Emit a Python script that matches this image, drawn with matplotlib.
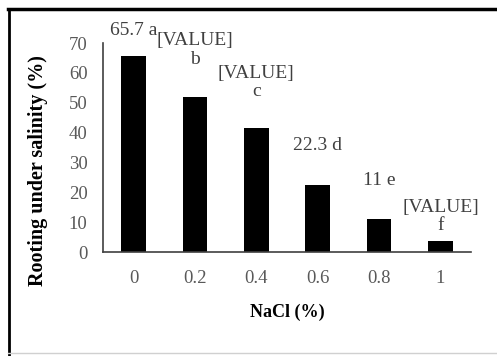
import numpy as np
import matplotlib.pyplot as plt
from matplotlib.lines import Line2D

plt.rcParams['font.family'] = ['Liberation Serif', 'DejaVu Serif']

# data
nacl = ['0', '0.2', '0.4', '0.6', '0.8', '1']
rooting = [65.7, 52.0, 41.5, 22.3, 11.0, 3.7]
bar_labels = ['65.7 a', '[VALUE]\nb', '[VALUE]\nc', '22.3 d', '11 e', '[VALUE]\nf']

# label offsets above bar tops (points)
label_offsets = [12, 21, 20, 23, 22, 5]

fig = plt.figure(figsize=(4.97, 3.56), dpi=100)
ax = fig.add_axes([0.207, 0.292, 0.741, 0.587])

x = np.arange(len(nacl))
bars = ax.bar(x, rooting, width=0.4, color='black')

for b, lab, off in zip(bars, bar_labels, label_offsets):
    ax.annotate(lab, (b.get_x() + b.get_width() / 2, b.get_height()),
                xytext=(0, off), textcoords='offset points',
                ha='center', va='bottom', fontsize=14, color='#404040',
                linespacing=1.1, annotation_clip=False)

ax.set_xlim(-0.5, len(nacl) - 0.5)
ax.set_ylim(0, 70)
ax.set_yticks(range(0, 71, 10))
ax.set_xticks(x)
ax.set_xticklabels(nacl)
ax.tick_params(axis='both', length=0, labelsize=13.5, labelcolor='#595959')
ax.tick_params(axis='y', pad=11)
ax.tick_params(axis='x', pad=13)

ax.spines['top'].set_visible(False)
ax.spines['right'].set_visible(False)
ax.spines['left'].set_color('#404040')
ax.spines['bottom'].set_color('#404040')
ax.spines['left'].set_linewidth(1.2)
ax.spines['bottom'].set_linewidth(1.2)

ax.set_ylabel('Rooting under salinity (%)', fontsize=14.5, fontweight='bold')
ax.yaxis.set_label_coords(-0.15, 0.39)
ax.set_xlabel('NaCl (%)', fontsize=13, fontweight='bold', labelpad=12)

# outer frame of the figure
fig.add_artist(Line2D([0.016, 1.0], [0.975, 0.975], color='black', lw=2.5,
                      transform=fig.transFigure))
fig.add_artist(Line2D([0.018, 0.018], [0.975, 0.0], color='black', lw=2.0,
                      transform=fig.transFigure))
fig.add_artist(Line2D([0.016, 1.0], [0.008, 0.008], color='#d0d0d0', lw=1.0,
                      transform=fig.transFigure))

fig.savefig('out.png', dpi=100)
